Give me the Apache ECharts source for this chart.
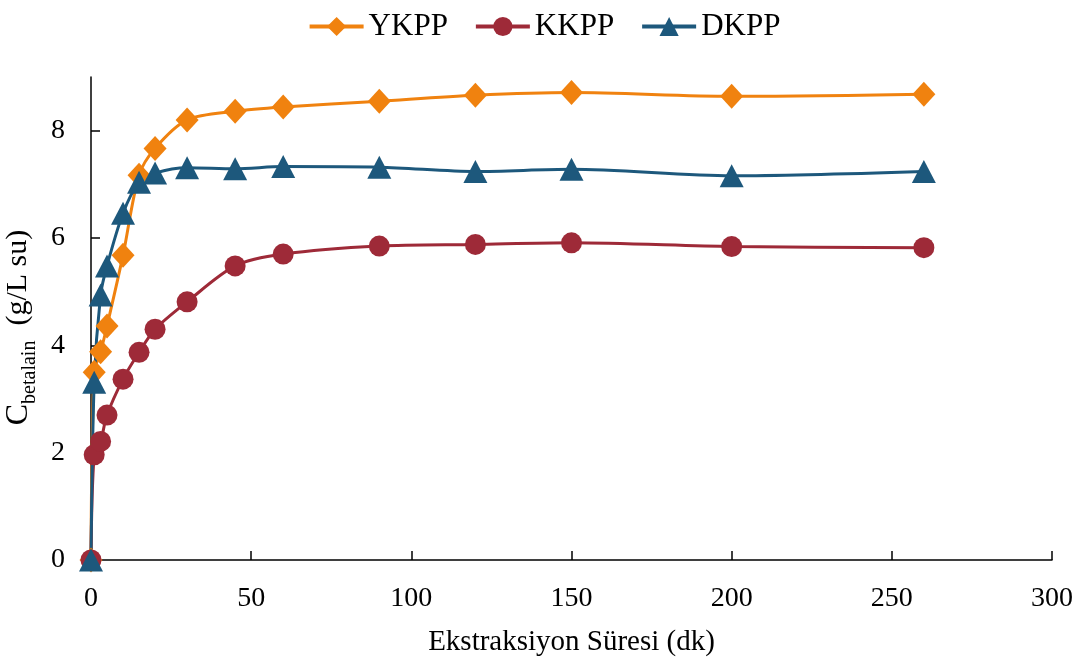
<!DOCTYPE html>
<html>
<head>
<meta charset="utf-8">
<script src="https://cdn.jsdelivr.net/npm/echarts@6/dist/echarts.min.js"></script>
<style>
  html, body { margin: 0; padding: 0; background: #fff; }
  #chart { width: 1088px; height: 662px; }
</style>
</head>
<body>
<div id="chart"></div>
<script>
// Extraction time (min)
const times = [0, 1, 3, 5, 10, 15, 20, 30, 45, 60, 90, 120, 150, 200, 260];

// Betalain concentration (g/L water) per peel type
const ykpp = [0, 3.50, 3.88, 4.36, 5.68, 7.17, 7.67, 8.20, 8.36, 8.44, 8.55, 8.66, 8.71, 8.64, 8.68];
const kkpp = [0, 1.96, 2.21, 2.70, 3.37, 3.87, 4.30, 4.81, 5.48, 5.70, 5.85, 5.88, 5.91, 5.84, 5.82];
const dkpp = [0, 3.31, 4.94, 5.48, 6.46, 7.04, 7.21, 7.31, 7.29, 7.33, 7.32, 7.24, 7.28, 7.16, 7.24];

const seriesNames = ['YKPP', 'KKPP', 'DKPP'];
const yTicks = [0, 2, 4, 6, 8];

const FONT = '"Liberation Serif", "Times New Roman", serif';

function pairs(xs, ys) {
  return xs.map((x, i) => [x, ys[i]]);
}

const chart = echarts.init(document.getElementById('chart'), null, { renderer: 'canvas' });

function lineSeries(name, values, color, symbol, size) {
  return {
    name: name,
    type: 'line',
    data: pairs(times, values),
    smooth: 0.3,
    symbol: symbol,
    symbolSize: size,
    showAllSymbol: true,
    lineStyle: { color: color, width: 3 },
    itemStyle: { color: color },
    emphasis: { disabled: true },
    z: 2
  };
}

chart.setOption({
  animation: false,
  backgroundColor: '#ffffff',
  legend: {
    top: 6,
    left: 'center',
    itemWidth: 54,
    itemHeight: 24,
    itemGap: 26,
    data: seriesNames,
    lineStyle: { width: 4 },
    textStyle: { fontFamily: FONT, fontSize: 31, color: '#000' }
  },
  grid: { left: 91, right: 36, top: 77, bottom: 102, outerBoundsMode: 'none', containLabel: false },
  xAxis: {
    type: 'value',
    min: 0,
    max: 300,
    interval: 50,
    name: 'Ekstraksiyon Süresi (dk)',
    nameLocation: 'middle',
    nameGap: 68,
    nameTextStyle: { fontFamily: FONT, fontSize: 29, color: '#000' },
    axisLine: { show: true, onZero: false, lineStyle: { color: '#000', width: 1.5 } },
    axisTick: { show: true, inside: true, length: 9, lineStyle: { color: '#000', width: 1.5 } },
    axisLabel: { fontFamily: FONT, fontSize: 28, color: '#000', margin: 25 },
    splitLine: { show: false }
  },
  yAxis: {
    type: 'value',
    min: 0,
    max: 9,
    interval: 2,
    name: '{c|C}{sub|betalain}{n|  (g/L su)}',
    nameLocation: 'middle',
    nameRotate: 90,
    nameGap: 46,
    nameTextStyle: {
      fontFamily: FONT,
      color: '#000',
      padding: [0, 18, 0, 0],
      rich: {
        c: { fontFamily: FONT, fontSize: 32, color: '#000' },
        sub: { fontFamily: FONT, fontSize: 20, color: '#000', verticalAlign: 'bottom', padding: [0, 0, -6, 0] },
        n: { fontFamily: FONT, fontSize: 30, color: '#000' }
      }
    },
    axisLine: { show: true, onZero: false, lineStyle: { color: '#000', width: 1.5 } },
    axisTick: { show: true, inside: true, length: 9, customValues: yTicks, lineStyle: { color: '#000', width: 1.5 } },
    axisLabel: { fontFamily: FONT, fontSize: 28, color: '#000', margin: 26, customValues: yTicks },
    splitLine: { show: false }
  },
  series: [
    lineSeries('YKPP', ykpp, '#F0820F', 'diamond', [23, 25]),
    lineSeries('KKPP', kkpp, '#9E2A38', 'circle', 21),
    lineSeries('DKPP', dkpp, '#1D587C', 'triangle', [24, 23])
  ]
});
</script>
</body>
</html>
